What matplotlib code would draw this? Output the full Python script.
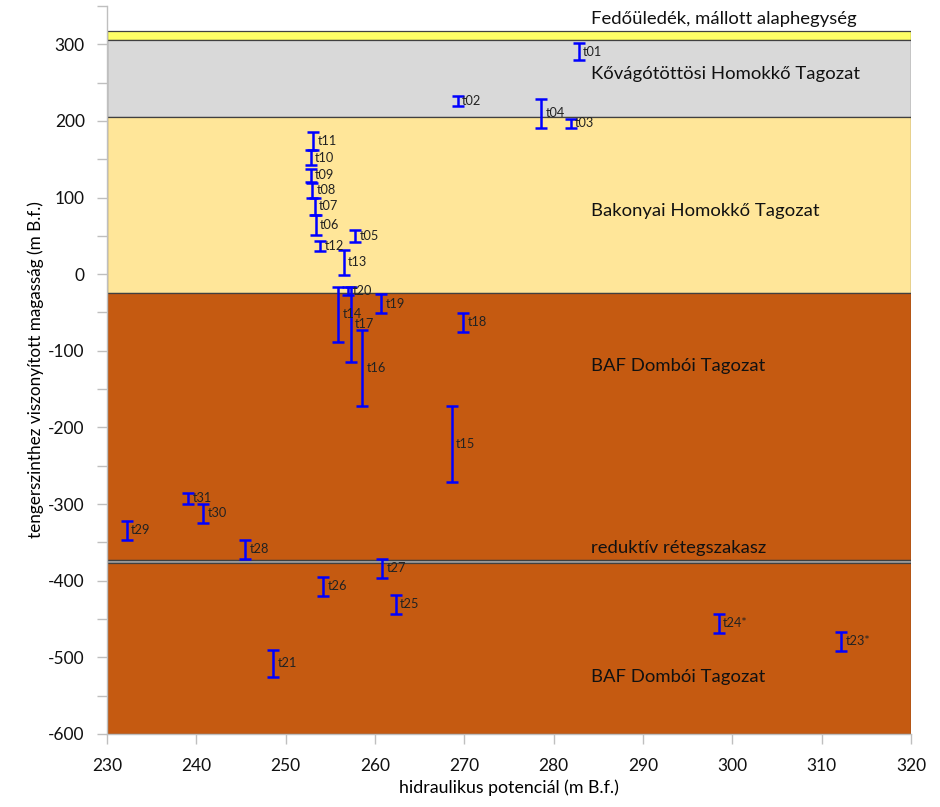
import numpy as np
import matplotlib.pyplot as plt

plt.rcParams['font.family'] = ['Lato', 'DejaVu Sans']

# measurements: x = hydraulic potential, y_top / y_bot = screened interval
names = ['t01', 't02', 't03', 't04', 't05', 't06', 't07', 't08', 't09', 't10',
         't11', 't12', 't13', 't14', 't15', 't16', 't17', 't18', 't19', 't20',
         't21', 't23*', 't24*', 't25', 't26', 't27', 't28', 't29', 't30', 't31']
x_pot = [282.8, 269.3, 281.9, 278.6, 257.8, 253.4, 253.25, 253.0, 252.8, 252.8,
         253.1, 253.9, 256.5, 255.9, 268.6, 258.6, 257.3, 269.9, 260.7, 257.0,
         248.6, 312.2, 298.5, 262.3, 254.2, 260.8, 245.5, 232.2, 240.8, 239.1]
y_top = [301.7, 232.2, 202.6, 228.7, 57.8, 77.0, 100.0, 119.1, 137.8, 161.7,
         185.6, 43.4, 31.7, -16.9, -171.7, -73.0, -16.9, -50.4, -26.5, -16.9,
         -490.4, -467.0, -443.5, -418.7, -394.8, -371.3, -346.9, -321.7, -300.0, -285.2]
y_bot = [279.1, 219.1, 190.9, 190.9, 42.2, 50.9, 77.0, 100.0, 120.4, 142.2,
         161.7, 30.4, -0.6, -88.3, -271.0, -172.2, -114.4, -75.6, -50.4, -27.4,
         -525.2, -491.3, -467.8, -443.1, -419.6, -396.1, -371.3, -346.9, -324.4, -300.0]

# geological units: (top, bottom, colour, label, label y)
layers = [
    (317.4, 306.0, '#FFFF66', 'Fedőüledék, mállott alaphegység', 333),
    (306.0, 205.2, '#D9D9D9', 'Kővágótöttösi Homokkő Tagozat', 261),
    (205.2, -25.2, '#FFE699', 'Bakonyai Homokkő Tagozat', 82),
    (-25.2, -372.5, '#C55A11', 'BAF Dombói Tagozat', -120),
    (-372.5, -377.2, '#A6A6A6', 'reduktív rétegszakasz', -357),
    (-377.2, -600.0, '#C55A11', 'BAF Dombói Tagozat', -526),
]

fig = plt.figure(figsize=(9.4, 8.07), dpi=100)
ax = fig.add_axes([0.1138, 0.0905, 0.8553, 0.9021])

for top, bot, col, lab, ly in layers:
    ax.axhspan(bot, top, facecolor=col, edgecolor='#404040', linewidth=0.9, zorder=1)
    ax.text(284.2, ly, lab, fontsize=13.3, va='center', ha='left', color='#111111', zorder=2)

x_pot = np.array(x_pot)
y_top = np.array(y_top)
y_bot = np.array(y_bot)
y_mid = (y_top + y_bot) / 2
y_err = (y_top - y_bot) / 2

ax.errorbar(x_pot, y_mid, yerr=y_err, fmt='none', ecolor='#0000FF',
            elinewidth=1.8, capsize=4, capthick=1.8, zorder=3)
for n, xv, yv in zip(names, x_pot, y_mid):
    ax.annotate(n, (xv, yv), xytext=(3, 0), textcoords='offset points',
                fontsize=9.2, va='center', ha='left', color='#222222', zorder=4)

ax.set_xlim(230, 320)
ax.set_ylim(-600, 350)
ax.set_xticks(np.arange(230, 321, 10))
yt = np.arange(-600, 351, 50)
ax.set_yticks(yt)
ax.set_yticklabels([str(v) if v % 100 == 0 else '' for v in yt])

for s in ['top', 'right']:
    ax.spines[s].set_visible(False)
for s in ['left', 'bottom']:
    ax.spines[s].set_color('#BFBFBF')
    ax.spines[s].set_linewidth(1.0)
ax.tick_params(axis='both', direction='out', length=7, width=1.0, color='#BFBFBF',
               labelsize=12.5, labelcolor='#111111')
ax.tick_params(axis='y', pad=9)
ax.tick_params(axis='x', pad=10)

ax.set_xlabel('hidraulikus potenciál (m B.f.)', fontsize=12.8, labelpad=4)
ax.set_ylabel('tengerszinthez viszonyított magasság (m B.f.)', fontsize=12.3, labelpad=3)

fig.savefig('out.png', dpi=100)
